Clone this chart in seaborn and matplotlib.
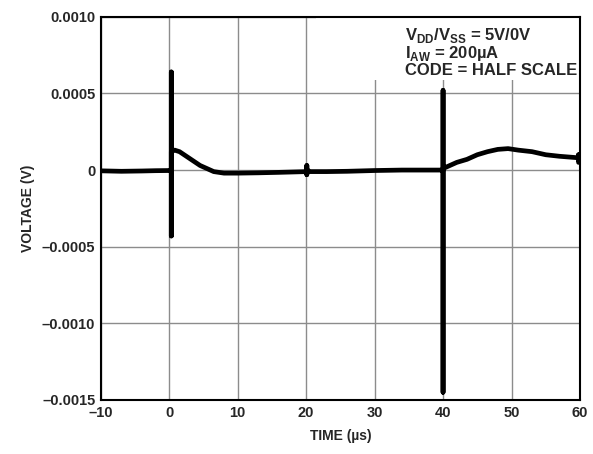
import matplotlib
matplotlib.use("Agg")
import matplotlib.pyplot as plt
from matplotlib.patches import Rectangle
import seaborn as sns
import pandas as pd

# Data
time_us = [-10, -7, -4, -2, 0.0, 0.3, 0.3, 0.3, 0.3, 0.3, 0.8, 1.5, 2.5, 3.5, 4.5, 5.5, 6.5, 8, 10, 13, 16,
           20.1, 20.1, 20.1, 20.1, 20.6, 23, 26, 30, 34, 37, 40.0, 40.0, 40.0, 40.0, 40.0, 41, 42, 43.5,
           45, 46.5, 48, 49.5, 51, 53, 55, 57, 59.8, 59.8, 59.8, 60]
voltage_v = [-0.000005, -0.000008, -0.000006, -0.000004, -0.000003, -0.000003, 0.00064, -0.00043, 0.00009,
             0.00012, 0.00013, 0.00012, 0.00009, 0.00006, 0.00003, 0.00001, -0.00001, -0.00002, -0.00002,
             -0.000018, -0.000015, -0.00001, 0.00003, -0.00003, 0.0, -0.00001, -0.00001, -0.000008,
             -0.000003, 0.0, 0.0, 0.0, 0.00052, -0.00145, 0.0, 0.00001, 0.00003, 0.00005, 0.00007, 0.0001,
             0.00012, 0.000135, 0.00014, 0.00013, 0.00012, 0.0001, 0.00009, 0.00008, 0.0001, 0.00005,
             0.00007]

y_ticks = [0.0010, 0.0005, 0, -0.0005, -0.0010, -0.0015]
y_tick_labels = ["0.0010", "0.0005", "0", "\u20130.0005", "\u20130.0010", "\u20130.0015"]
x_ticks = [-10, 0, 10, 20, 30, 40, 50, 60]
x_tick_labels = ["\u201310", "0", "10", "20", "30", "40", "50", "60"]

df = pd.DataFrame({"time": time_us, "voltage": voltage_v})

sns.set_style("white")
plt.rcParams["font.family"] = ["Liberation Sans", "DejaVu Sans"]
plt.rcParams["font.weight"] = "bold"
plt.rcParams["mathtext.fontset"] = "custom"
plt.rcParams["mathtext.rm"] = "Liberation Sans:bold"
plt.rcParams["mathtext.bf"] = "Liberation Sans:bold"

fig = plt.figure(figsize=(5.93, 4.54), dpi=100)
ax = fig.add_axes([0.170, 0.119, 0.808, 0.844])

sns.lineplot(data=df, x="time", y="voltage", ax=ax, color="black", linewidth=3.4,
             sort=False, estimator=None, zorder=3)

ax.set_xlim(-10, 60)
ax.set_ylim(-0.0015, 0.0010)
ax.set_xticks(x_ticks)
ax.set_xticklabels(x_tick_labels, fontsize=10.5, fontweight="bold")
ax.set_yticks(y_ticks)
ax.set_yticklabels(y_tick_labels, fontsize=10.5, fontweight="bold")
ax.grid(True, color="#8c8c8c", linewidth=1.0, zorder=0)
ax.set_axisbelow(True)
for s in ax.spines.values():
    s.set_color("black")
    s.set_linewidth(1.5)
    s.set_zorder(5)
ax.tick_params(length=0, pad=4)

ax.set_xlabel("TIME (\u00b5s)", fontsize=10, fontweight="bold", labelpad=7)
ax.set_ylabel("VOLTAGE (V)", fontsize=10, fontweight="bold", labelpad=5)

# white box behind annotation
ax.add_patch(Rectangle((0.45, 0.835), 0.55, 0.165, transform=ax.transAxes,
                       facecolor="white", edgecolor="none", zorder=1))
ax.text(0.635, 0.977,
        "V$_{\\mathregular{DD}}$/V$_{\\mathregular{SS}}$ = 5V/0V\n"
        "I$_{\\mathregular{AW}}$ = 200\u00b5A\n"
        "CODE = HALF SCALE",
        transform=ax.transAxes, ha="left", va="top", fontsize=12, fontweight="bold",
        linespacing=0.96, zorder=4)

fig.savefig("out.png", dpi=100)
